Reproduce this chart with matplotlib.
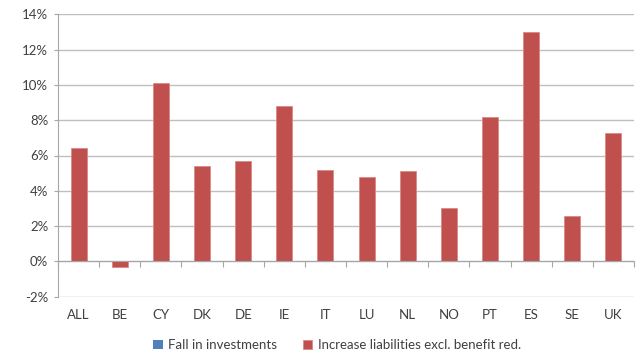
import numpy as np
import matplotlib.pyplot as plt
from matplotlib.transforms import blended_transform_factory

countries = ["ALL", "BE", "CY", "DK", "DE", "IE", "IT", "LU", "NL", "NO", "PT", "ES", "SE", "UK"]
fall_investments = [0, 0, 0, 0, 0, 0, 0, 0, 0, 0, 0, 0, 0, 0]
increase_liabilities = [6.4, -0.3, 10.1, 5.4, 5.7, 8.8, 5.2, 4.8, 5.1, 3.0, 8.2, 13.0, 2.6, 7.3]
yticks = [-2, 0, 2, 4, 6, 8, 10, 12, 14]

plt.rcParams['font.family'] = ['Lato', 'DejaVu Sans']
grey = "#A6A6A6"
txt = "#404040"

fig = plt.figure(figsize=(6.36, 3.54), dpi=100)
ax = fig.add_axes([58 / 636, 1 - 296.7 / 354, 576 / 636, (296.7 - 14.3) / 354])

x = np.arange(len(countries))
ax.bar(x, fall_investments, width=0.39, color="#4F81BD", label="Fall in investments")
ax.bar(x, increase_liabilities, width=0.39, color="#C0504D", edgecolor="#D98A88",
       linewidth=0.6, label="Increase liabilities excl. benefit red.")

ax.set_xlim(-0.5, len(countries) - 0.5)
ax.set_ylim(-2, 14)
ax.set_yticks(yticks)
ax.set_yticklabels([f"{v}%" for v in yticks], fontsize=9.5, color=txt)
ax.yaxis.grid(True, color="#BFBFBF", linewidth=1)
ax.set_axisbelow(True)

for s in ["top", "right"]:
    ax.spines[s].set_visible(False)
ax.spines["left"].set_color(grey)
ax.spines["bottom"].set_color(grey)
ax.spines["bottom"].set_position(("data", 0))
ax.tick_params(axis="y", length=3, color=grey, pad=4)
ax.set_xticks(np.arange(len(countries) + 1) - 0.5)
ax.set_xticklabels([])
ax.tick_params(axis="x", length=4, color=grey, direction="out")

trans = blended_transform_factory(ax.transData, ax.transAxes)
for i, c in enumerate(countries):
    ax.text(i, -0.045, c, transform=trans, ha="center", va="top", fontsize=9.5, color=txt)

fig.legend(loc="lower center", bbox_to_anchor=(0.53, -0.025), ncol=2, frameon=False,
           fontsize=9.5, handlelength=0.7, handleheight=0.7, handletextpad=0.4,
           columnspacing=2.0, labelcolor=txt)

fig.savefig("out.png", dpi=100)
